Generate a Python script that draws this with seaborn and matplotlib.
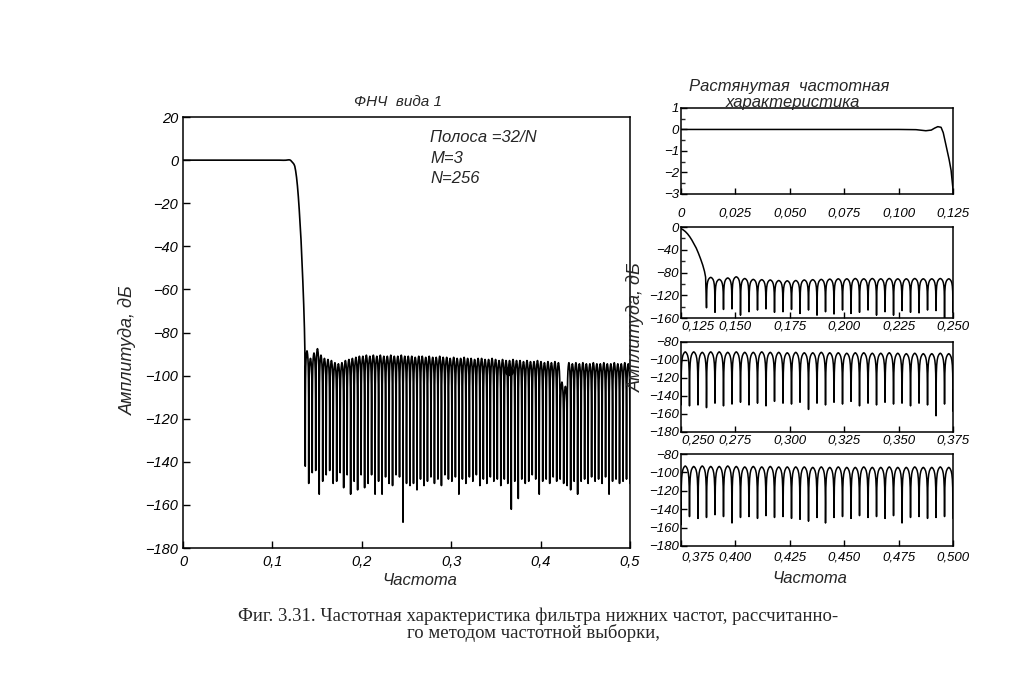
import pandas as pd
import matplotlib
matplotlib.use("Agg")
import matplotlib.pyplot as plt
from matplotlib.ticker import FuncFormatter, MultipleLocator
import seaborn as sns

N = 256

# passband
pass_f = [0.0, 0.025, 0.05, 0.075, 0.1, 0.108, 0.1125, 0.115, 0.1165, 0.118,
          0.1195, 0.1205, 0.1218, 0.1232, 0.1241, 0.125]
pass_db = [0.0, 0.0, 0.0, 0.0, 0.0, -0.01, -0.06, -0.03, 0.06, 0.13,
           0.1, -0.15, -0.75, -1.4, -1.9, -2.8]

# transition band
trans_f = [0.126, 0.127, 0.128, 0.129, 0.130, 0.131, 0.132, 0.133, 0.134,
           0.135, 0.1358, 0.1363]
trans_db = [-5, -8, -12, -17, -23, -30, -37, -46, -56, -67, -78, -88]

# stopband nulls at k/N, k = 35..128
null_k = list(range(35, 129))
null_db = [-142, -150, -145, -144, -155, -149, -146, -144, -150, -149,
           -145, -152, -146, -155, -149, -153, -146, -152, -150, -146,
           -155, -149, -155, -147, -150, -151, -146, -147, -168, -150,
           -151, -150, -153, -148, -151, -149, -147, -150, -148, -151,
           -146, -148, -149, -147, -155, -148, -150, -147, -149, -146,
           -151, -148, -150, -147, -149, -148, -151, -148, -150, -162,
           -149, -157, -148, -150, -149, -146, -148, -155, -149, -148,
           -150, -147, -149, -148, -150, -151, -153, -149, -155, -149,
           -148, -150, -147, -149, -148, -150, -147, -155, -149, -148,
           -150, -149, -148, -150]

# sidelobe peak levels, one per lobe between two nulls
peak_db = [-88.5, -92, -89.5, -87.5, -90.5, -92, -92.5, -93, -94, -94.5,
           -94, -93, -92.5, -92, -91.5, -91, -91, -90.5, -91, -90.5,
           -91, -90.5, -91, -91, -90.5, -91, -91, -90.5, -91, -91,
           -91, -91.5, -91, -91, -91.5, -91, -91.5, -91.5, -91, -91.5,
           -91.5, -92, -91.5, -92, -92, -91.5, -92, -92, -92.5, -92,
           -92, -92.5, -92.5, -92, -92.5, -93, -92.5, -93, -93, -92.5,
           -93, -93, -93.5, -93, -93.5, -93.5, -93, -93.5, -94, -93.5,
           -94, -93.5, -94, -94, -94, -94, -94.5, -94, -94.5, -94,
           -94.5, -94.5, -94, -94.5, -94.5, -94, -94.5, -94.5, -94, -94.5,
           -94.5, -94, -94.5]

# shape of one sidelobe (position in lobe, dB below its peak)
lobe_u = [0.015, 0.04, 0.08, 0.14, 0.22, 0.32, 0.42, 0.5, 0.58, 0.68, 0.78,
          0.86, 0.92, 0.96, 0.985]
lobe_rel = [-40, -22, -13, -7.5, -4, -1.8, -0.5, 0, -0.5, -1.8, -4, -7.5,
            -13, -22, -40]

# gap in the top trace of the big plot near 0,43
gap_lobes = [73, 74]
gap_db = [-103, -105]

blot_f = [0.365]
blot_db = [-98]


def build(peaks):
    f = list(pass_f) + list(trans_f)
    d = list(pass_db) + list(trans_db)
    for j, pk in enumerate(peaks):
        k = null_k[j]
        f.append(k / N)
        d.append(null_db[j])
        for u, r in zip(lobe_u, lobe_rel):
            f.append((k + u) / N)
            d.append(pk + r)
    f.append(null_k[-1] / N)
    d.append(null_db[-1])
    return pd.DataFrame({"f": f, "db": d})


resp = build(peak_db)
main_peaks = list(peak_db)
for j, v in zip(gap_lobes, gap_db):
    main_peaks[j] = v
resp_main = build(main_peaks)

sns.set_theme(style="ticks")
plt.rcParams['font.family'] = ['Liberation Sans', 'DejaVu Sans']
plt.rcParams['font.style'] = 'italic'
plt.rcParams['xtick.direction'] = 'in'
plt.rcParams['ytick.direction'] = 'in'
plt.rcParams['axes.linewidth'] = 1.1
plt.rcParams['axes.edgecolor'] = 'black'


def yfmt(v, pos):
    s = "%d" % round(v)
    return s.replace("-", "\u2212")


def xfmt(dec):
    def f(v, pos):
        if abs(v) < 1e-9:
            return "0"
        return ("%.*f" % (dec, v)).replace(".", ",")
    return FuncFormatter(f)


fig = plt.figure(figsize=(10.34, 7.0), dpi=100)

# main plot
ax = fig.add_axes([0.1770, 0.2171, 0.4323, 0.6157])
sns.lineplot(data=resp_main, x="f", y="db", ax=ax, color="black", lw=1.2,
             estimator=None, sort=False)
sns.scatterplot(x=blot_f, y=blot_db, ax=ax, color="black", s=45, linewidth=0)
ax.set_xlim(0, 0.5)
ax.set_ylim(-180, 20)
ax.xaxis.set_major_locator(MultipleLocator(0.1))
ax.yaxis.set_major_locator(MultipleLocator(20))
ax.xaxis.set_major_formatter(xfmt(1))
ax.yaxis.set_major_formatter(FuncFormatter(yfmt))
ax.tick_params(labelsize=10.5, length=5, width=1, colors="black")
ax.tick_params(axis="x", pad=5)
ax.set_xlabel("")
ax.set_ylabel("")

# stretched panels
panels = [
    ([0.6586, 0.7229, 0.2631, 0.1229], (0.0, 0.125), (-3, 1), 1, 0.5, 10),
    ([0.6586, 0.5457, 0.2631, 0.1300], (0.125, 0.25), (-160, 0), 40, 20, 2),
    ([0.6586, 0.3829, 0.2631, 0.1286], (0.25, 0.375), (-180, -80), 20, None, 2),
    ([0.6586, 0.2200, 0.2631, 0.1314], (0.375, 0.5), (-180, -80), 20, None, 4),
]
for i, (rect, xl, yl, ymaj, ymin, xpad) in enumerate(panels):
    a = fig.add_axes(rect)
    sns.lineplot(data=resp, x="f", y="db", ax=a, color="black", lw=1.1,
                 estimator=None, sort=False)
    a.set_xlim(*xl)
    a.set_ylim(*yl)
    a.set_xticks([xl[0] + 0.025 * n for n in range(6)])
    a.yaxis.set_major_locator(MultipleLocator(ymaj))
    if ymin:
        a.yaxis.set_minor_locator(MultipleLocator(ymin))
    a.xaxis.set_major_formatter(xfmt(3))
    a.yaxis.set_major_formatter(FuncFormatter(yfmt))
    a.tick_params(labelsize=9.5, length=4, width=1, colors="black")
    a.tick_params(axis="y", pad=1.5)
    a.tick_params(axis="x", pad=xpad)
    a.tick_params(which="minor", length=3, width=1)
    a.set_xlabel("")
    a.set_ylabel("")
    if i > 0:
        a.xaxis.get_major_ticks()[0].label1.set_horizontalalignment("left")

# texts
fig.text(0.385, 0.854, "ФНЧ  вида 1", fontsize=11, ha="center", va="center")
fig.text(0.416, 0.814, "Полоса =32/N\nM=3\nN=256", fontsize=12, ha="left",
         va="top", linespacing=1.45)
fig.text(0.124, 0.50, "Амплитуда, дБ", fontsize=13, rotation=90,
         ha="center", va="center")
fig.text(0.406, 0.171, "Частота", fontsize=12, ha="center", va="center")
fig.text(0.763, 0.877, "Растянутая  частотная", fontsize=12, ha="center",
         va="center")
fig.text(0.767, 0.853, "характеристика", fontsize=12, ha="center",
         va="center")
fig.text(0.615, 0.533, "Амплитуда, дБ", fontsize=13, rotation=90,
         ha="center", va="center")
fig.text(0.783, 0.174, "Частота", fontsize=12, ha="center", va="center")

cap = dict(family=["Liberation Serif", "DejaVu Serif"], style="normal",
           fontsize=13.5, ha="center", va="center")
fig.text(0.520, 0.1200, "Фиг. 3.31. Частотная характеристика фильтра нижних "
         "частот, рассчитанно-", **cap)
fig.text(0.516, 0.0960, "го методом частотной выборки,", **cap)

fig.savefig("out.png", dpi=100, facecolor="white")
